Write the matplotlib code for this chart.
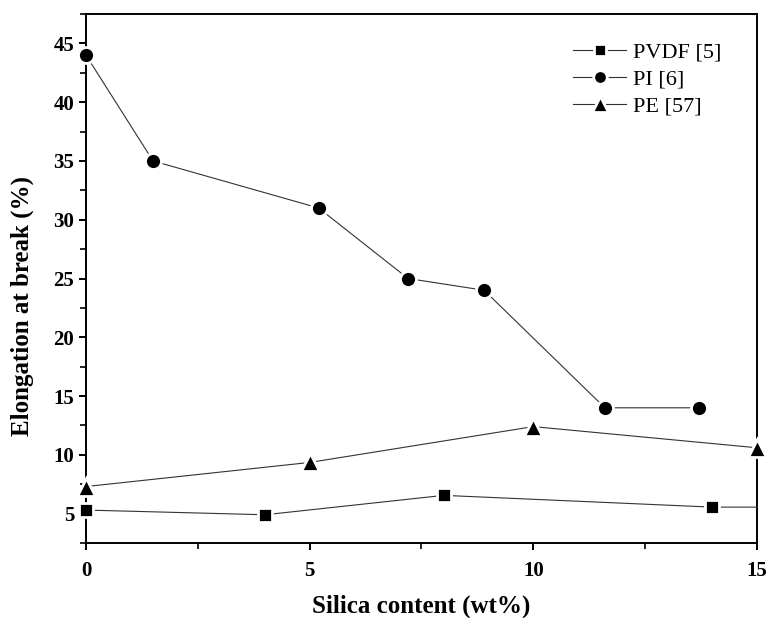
import numpy as np
import matplotlib
matplotlib.use("Agg")
import matplotlib.pyplot as plt
from matplotlib.ticker import MultipleLocator

# data
pvdf_x = [0, 4, 8, 14, 15]
pvdf_y = [5.3, 4.9, 6.55, 5.55, 5.55]
pi_x = [0, 1.5, 5.2, 7.2, 8.9, 11.6, 13.7]
pi_y = [44, 35, 31, 25, 24, 14, 14]
pe_x = [0, 5, 10, 15]
pe_y = [7.3, 9.35, 12.4, 10.6]

plt.rcParams['font.family'] = ['Liberation Serif', 'DejaVu Serif']

fig = plt.figure(figsize=(7.71, 6.18), dpi=100)
ax = fig.add_axes([0.1115, 0.1214, 0.8703, 0.8559])

style = dict(color='#333333', linewidth=0.8, markerfacecolor='black',
             markeredgecolor='white', markeredgewidth=2.0, clip_on=False, zorder=3)

ax.plot(pvdf_x, pvdf_y, marker='s', markersize=10.5, markevery=[0, 1, 2, 3],
        label='PVDF [5]', **style)
ax.plot(pi_x, pi_y, marker='o', markersize=11.5, label='PI [6]', **style)
ax.plot(pe_x, pe_y, marker='^', markersize=13, label='PE [57]', **style)

ax.set_xlim(0, 15)
ax.set_ylim(2.5, 47.5)
ax.xaxis.set_major_locator(MultipleLocator(5))
ax.xaxis.set_minor_locator(MultipleLocator(2.5))
ax.yaxis.set_major_locator(MultipleLocator(5))
ax.yaxis.set_minor_locator(MultipleLocator(2.5))
ax.yaxis.set_major_formatter(plt.FuncFormatter(lambda v, p: '' if v < 4 else f'{v:.0f}'))

for s in ax.spines.values():
    s.set_linewidth(1.4)
ax.tick_params(which='major', direction='out', length=5, width=1.4, labelsize=15)
ax.tick_params(which='minor', direction='out', length=4, width=1.2)
for lab in ax.get_xticklabels() + ax.get_yticklabels():
    lab.set_fontweight('bold')
ax.tick_params(axis='x', pad=8)

ax.set_xlabel('Silica content (wt%)', fontsize=18, fontweight='bold', labelpad=10)
ax.set_ylabel('Elongation at break (%)', fontsize=18, fontweight='bold')
ax.yaxis.set_label_coords(-0.077, 0.448)

ax.legend(loc='upper right', bbox_to_anchor=(0.977, 0.985), frameon=False, fontsize=16,
          handlelength=2.4, handletextpad=0.3, labelspacing=0.3, markerscale=0.85)

fig.savefig('out.png', dpi=100)
